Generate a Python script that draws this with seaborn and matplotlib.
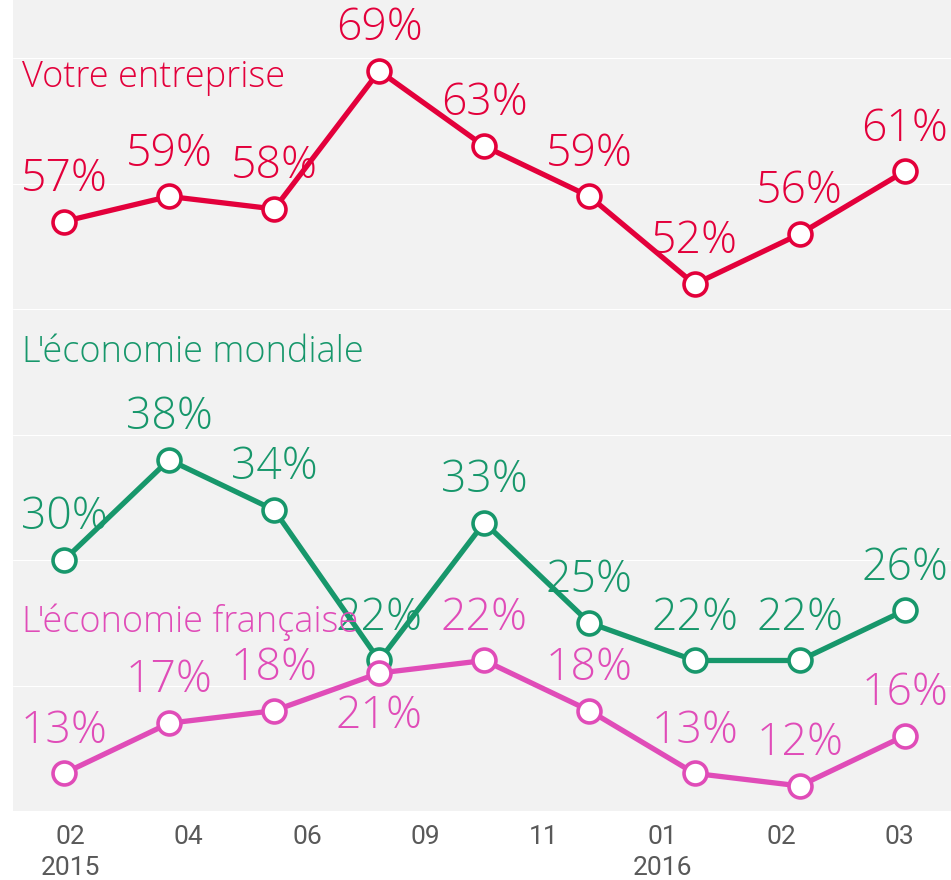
import matplotlib
matplotlib.use("Agg")
import matplotlib.pyplot as plt
import seaborn as sns
import pandas as pd
import numpy as np

# ---- data ----
point_index = [0, 1, 2, 3, 4, 5, 6, 7, 8]
entreprise = [57, 59, 58, 69, 63, 59, 52, 56, 61]
mondiale = [30, 38, 34, 22, 33, 25, 22, 22, 26]
francaise = [13, 17, 18, 21, 22, 18, 13, 12, 16]
series_names = ["Votre entreprise", "L'économie mondiale", "L'économie française"]
tick_labels = ["02\n2015", "04", "06", "09", "11", "01\n2016", "02", "03"]
francaise_label_below = [3]

colors = ["#e3003b", "#17976b", "#e04cb8"]

sns.set_style("whitegrid", rc={
    "axes.facecolor": "#f2f2f2",
    "grid.color": "white",
    "grid.linewidth": 2.0,
    "axes.edgecolor": "#f2f2f2",
})
plt.rcParams["font.family"] = ["Open Sans", "DejaVu Sans"]

W, H = 951, 880
fig = plt.figure(figsize=(W / 100, H / 100), dpi=100)
ax = fig.add_axes([13 / W, 1 - 811 / H, 1 - 13 / W, 811 / H])

df = pd.DataFrame({
    "x": point_index * 3,
    "value": entreprise + mondiale + francaise,
    "serie": [series_names[0]] * 9 + [series_names[1]] * 9 + [series_names[2]] * 9,
})

sns.lineplot(data=df, x="x", y="value", hue="serie", palette=colors,
             marker="o", markersize=16.5, markerfacecolor="white",
             markeredgewidth=2.6, linewidth=3.8, legend=False, ax=ax,
             zorder=3)
for line, c in zip(ax.get_lines(), colors):
    line.set_markeredgecolor(c)

ax.set_xlim(-0.485, 8.44)
ax.set_ylim(10, 74.66)
ax.set_yticks([20, 30, 40, 50, 60, 70])
ax.set_yticklabels([])
ax.tick_params(axis="y", length=0)
ax.grid(axis="x", visible=False)
ax.grid(axis="y", visible=True)
for s in ax.spines.values():
    s.set_visible(False)

ax.set_xticks(np.linspace(0.057, 7.95, len(tick_labels)))
ax.set_xticklabels(tick_labels, family=["Roboto", "DejaVu Sans"], fontsize=19,
                   color="#595959", linespacing=1.4)
ax.tick_params(axis="x", length=0, pad=10)
ax.set_xlabel("")
ax.set_ylabel("")

# value labels
all_vals = [entreprise, mondiale, francaise]
for k, vals in enumerate(all_vals):
    for i, v in zip(point_index, vals):
        below = (k == 2 and i in francaise_label_below)
        ax.annotate(f"{v}%", (i, v), xytext=(0, -44 if below else 42),
                    textcoords="offset pixels", ha="center", va="center",
                    fontsize=32, fontweight="light", color=colors[k], zorder=2)

# series titles
title_pos = [(22, 78), (22, 353), (22, 622)]
for name, (px, py), c in zip(series_names, title_pos, colors):
    fig.text(px / W, 1 - py / H, name, fontsize=26, fontweight="light",
             color=c, ha="left", va="center")

fig.savefig("out.png", dpi=100)
